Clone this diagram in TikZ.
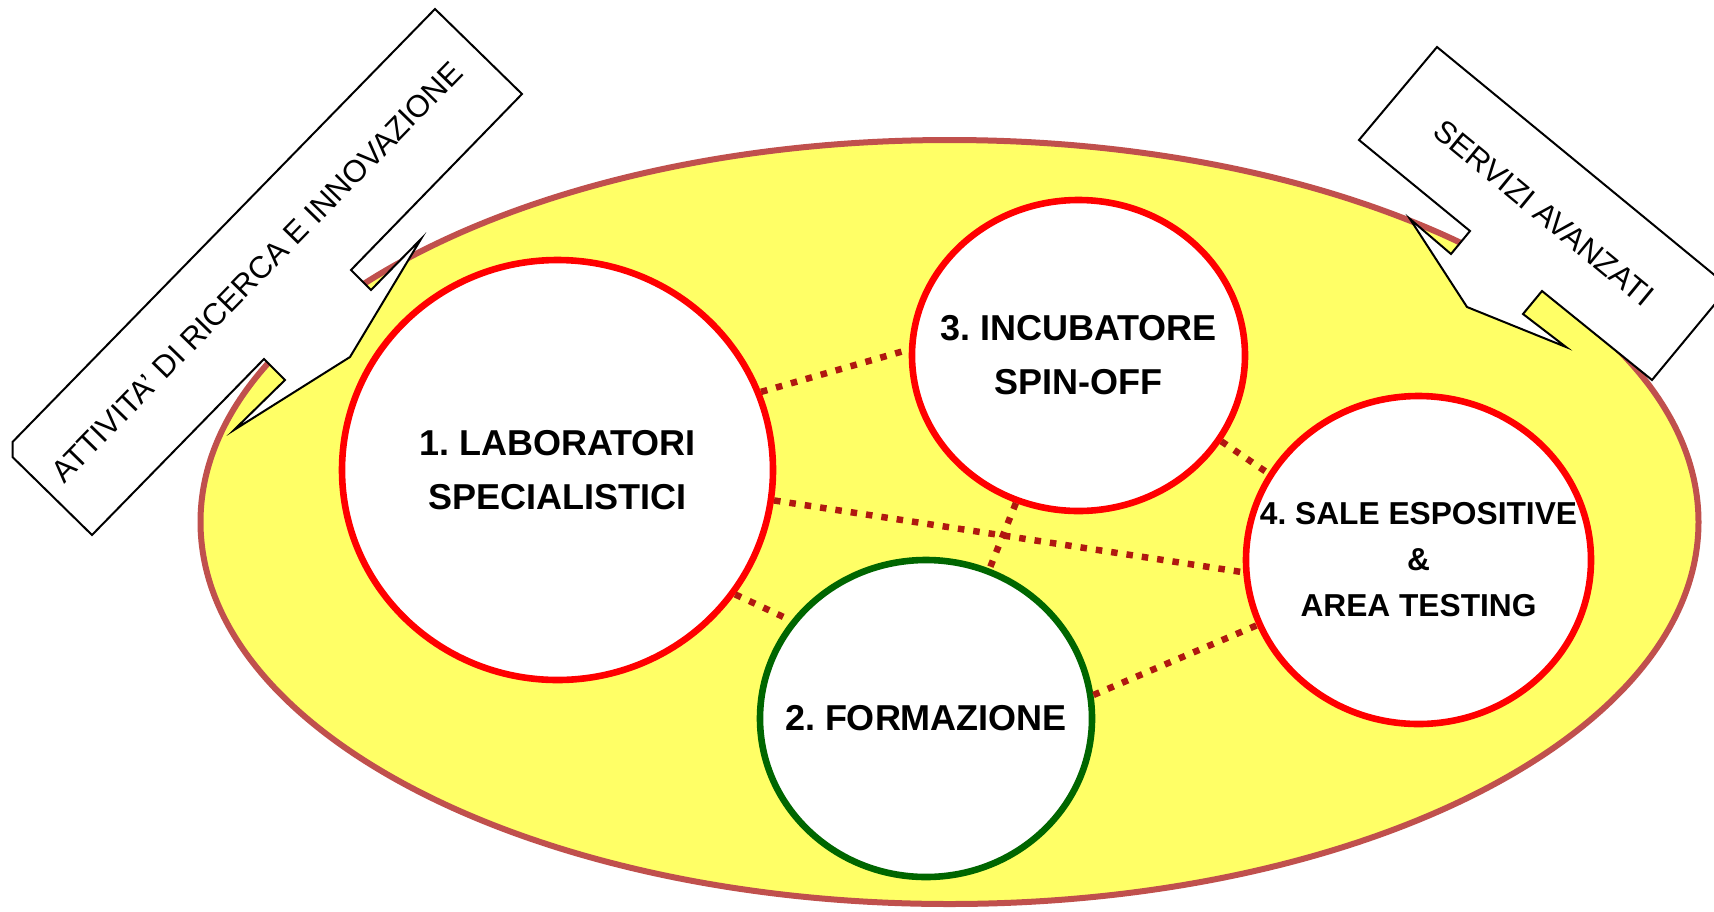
\documentclass[tikz,border=0pt]{standalone}
\usepackage{fontspec}
\setmainfont{Liberation Sans}
\usetikzlibrary{shapes.geometric}
\frenchspacing

\definecolor{fondo}{RGB}{255,255,102}
\definecolor{bordo}{RGB}{192,80,77}
\definecolor{punti}{RGB}{176,24,16}
\definecolor{verde}{RGB}{0,102,0}

\begin{document}
\begin{tikzpicture}[
                x = 0.5pt, y = -0.5pt, % one unit = one pixel of the sketch
                line join = miter % sharp corners on the callouts
            ]

            \tikzstyle{ring}=[draw = red, line width = 3.3pt, fill = white,
            ellipse, inner sep = 0pt]
            \tikzstyle{lbl}=[align = center, inner sep = 0pt,
            font = \bfseries\fontsize{18}{27}\selectfont]
            \tikzstyle{link}=[draw = punti, line width = 3.25pt,
            dash pattern = on 3.25pt off 4.5pt]
            \tikzstyle{bubble}=[draw = black, line width = 1pt, fill = white]

            \useasboundingbox (0,0) rectangle (1714,911);

            % area
            \draw[fill = fondo, draw = bordo, line width = 3pt]
            (949.5,522) ellipse [x radius = 374.5pt, y radius = 191pt];

            % callouts
            \draw[bubble] (435,9) -- (522,94) -- (351,270) -- (371,290) --
            (421,239) -- (350,357) -- (234,430) -- (285,380) -- (264,359) --
            (92,535) -- (12.5,457) -- (12.5,442) -- cycle;
            \node (ricerca) [rotate = 45.7, font = \fontsize{15.5}{18}\selectfont]
            at (257,272) {ATTIVITA’ DI RICERCA E INNOVAZIONE};

            \draw[bubble] (1437,47) -- (1359,140) -- (1470,231) -- (1451,254) --
            (1410,219) -- (1467,307) -- (1566,347) -- (1523,314) -- (1542,291) --
            (1652,380) -- (1729,287) -- cycle;
            \node (servizi) [rotate = -39.4, font = \fontsize{15.5}{18}\selectfont]
            at (1544,213) {SERVIZI AVANZATI};

            \node (1) [ring, minimum width = 215.5pt, minimum height = 210pt]
            at (557.5,470) {};
            \node (2) [ring, draw = verde, minimum width = 166pt,
            minimum height = 158.5pt] at (926,718.5) {};
            \node (3) [ring, minimum width = 166.5pt, minimum height = 155.5pt]
            at (1078.5,355.5) {};
            \node (4) [ring, minimum width = 172.5pt, minimum height = 164pt]
            at (1418.5,560) {};

            \node [lbl] at (1) {1. LABORATORI\\SPECIALISTICI};
            \node [lbl] at (2) {2. FORMAZIONE};
            \node [lbl] at (3) {3. INCUBATORE\\SPIN-OFF};
            \node [lbl, font = \bfseries\fontsize{15.85}{23}\selectfont] at (4)
            {4. SALE ESPOSITIVE\\\&\\AREA TESTING};

            \path[link] (1.21) -- (3.178); \path[link] (1.-8) -- (4.184);
            \path[link] (3.247) -- (2.67); \path[link] (1.-35) -- (2.144);
            \path[link] (2.8) -- (4.202); \path[link] (3.-31) -- (4.150);

        \end{tikzpicture}
\end{document}
